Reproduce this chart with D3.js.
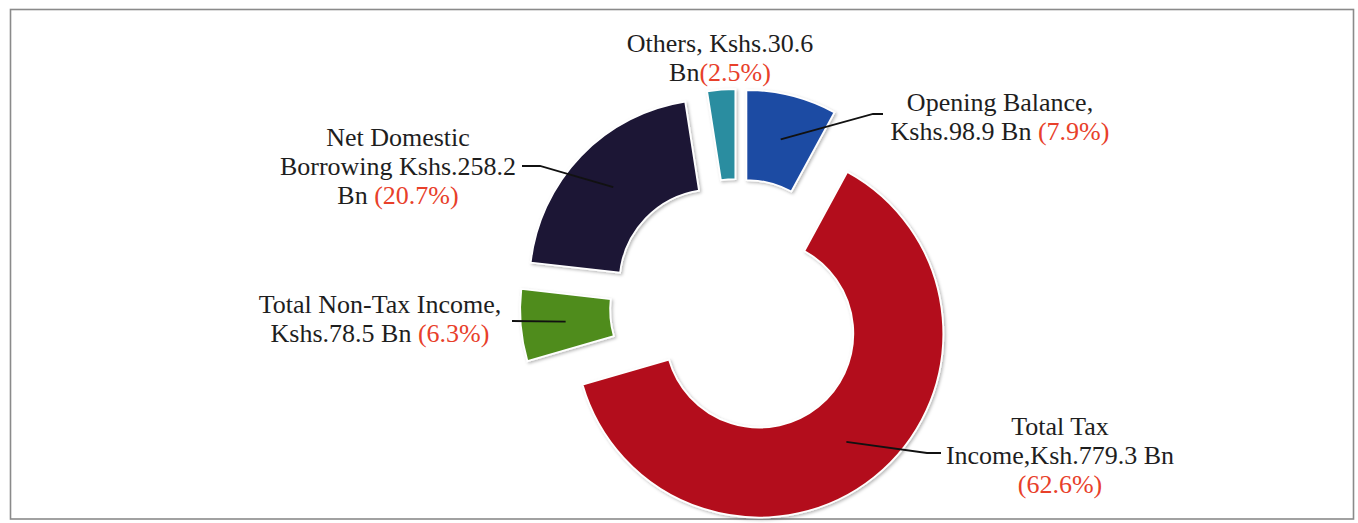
<!DOCTYPE html>
<html>
<head>
<meta charset="utf-8">
<script src="https://cdn.jsdelivr.net/npm/d3@7"></script>
<style>
  html, body { margin: 0; padding: 0; background: #fff; }
  svg { display: block; }
  text { font-family: "Liberation Serif", "Times New Roman", serif; font-size: 26px; fill: #1e1e1e; }
  .pct { fill: #e8402a; }
</style>
</head>
<body>
<svg id="chart" width="1358" height="523"></svg>
<script>
// Revenue sources (Kshs. Bn), drawn clockwise from 12 o'clock
const categories = ["Opening Balance", "Total Tax Income", "Total Non-Tax Income", "Net Domestic Borrowing", "Others"];
const values = [98.9, 779.3, 78.5, 258.2, 30.6];
const percents = ["7.9%", "62.6%", "6.3%", "20.7%", "2.5%"];
const colors = ["#1f4ba3", "#b3111a", "#4f8c1f", "#1d1736", "#2a8da0"];

// Label text, line by line; each line is [plain part, percentage part]
const labelLines = [
  [["Opening Balance,", ""], ["Kshs.98.9 Bn ", "(" + percents[0] + ")"]],
  [["Total Tax", ""], ["Income,Ksh.779.3 Bn", ""], ["", "(" + percents[1] + ")"]],
  [["Total Non-Tax Income,", ""], ["Kshs.78.5 Bn ", "(" + percents[2] + ")"]],
  [["Net Domestic", ""], ["Borrowing Kshs.258.2", ""], ["Bn ", "(" + percents[3] + ")"]],
  [["Others, Kshs.30.6", ""], ["Bn", "(" + percents[4] + ")"]]
];

// Label block placement: centre x, first baseline y
const labelPos = [
  { x: 1000, y: 111 },
  { x: 1060, y: 435 },
  { x: 380, y: 313 },
  { x: 398, y: 146 },
  { x: 720, y: 52 }
];
// Leader line elbow and end points (null = no leader)
const leaders = [
  [[873, 114], [883, 114]],
  [[927, 453], [941, 453]],
  [[512, 321]],
  [[540, 166], [522, 166]],
  null
];

const svg = d3.select("#chart");

// Outer frame
svg.append("rect")
  .attr("x", 10.5).attr("y", 9.5)
  .attr("width", 1343).attr("height", 509.5)
  .attr("fill", "none")
  .attr("stroke", "#8a8a8a")
  .attr("stroke-width", 1.6);

// Soft shadow for the slices
const defs = svg.append("defs");
const f = defs.append("filter").attr("id", "shadow")
  .attr("x", "-20%").attr("y", "-20%").attr("width", "140%").attr("height", "140%");
f.append("feDropShadow")
  .attr("dx", 1.5).attr("dy", 1.5).attr("stdDeviation", 1.6)
  .attr("flood-color", "#000").attr("flood-opacity", 0.28);

const cx = 738, cy = 307;
const outerR = 184, innerR = 94, explode = 34;

const pie = d3.pie().sort(null).value(d => d)(values);
const arc = d3.arc().innerRadius(innerR).outerRadius(outerR);

function offset(d) {
  const a = (d.startAngle + d.endAngle) / 2;
  return [Math.sin(a) * explode, -Math.cos(a) * explode];
}

const g = svg.append("g").attr("transform", `translate(${cx},${cy})`);

g.selectAll("path.slice")
  .data(pie)
  .join("path")
  .attr("class", "slice")
  .attr("transform", d => { const o = offset(d); return `translate(${o[0]},${o[1]})`; })
  .attr("d", arc)
  .attr("fill", (d, i) => colors[i])
  .attr("stroke", "#fff")
  .attr("stroke-width", 1.8)
  .attr("filter", "url(#shadow)");

// Leader lines from each slice's centroid
pie.forEach((d, i) => {
  if (!leaders[i]) return;
  const o = offset(d);
  const c = arc.centroid(d);
  const pts = [[cx + o[0] + c[0], cy + o[1] + c[1]], ...leaders[i]];
  svg.append("path")
    .attr("d", d3.line()(pts))
    .attr("fill", "none")
    .attr("stroke", "#111")
    .attr("stroke-width", 1.8);
});

// Data labels
const lineGap = 29;
labelLines.forEach((lines, i) => {
  const t = svg.append("text")
    .attr("text-anchor", "middle")
    .attr("x", labelPos[i].x)
    .attr("y", labelPos[i].y);
  lines.forEach((ln, k) => {
    const first = t.append("tspan")
      .attr("x", labelPos[i].x)
      .attr("y", labelPos[i].y + k * lineGap)
      .text(ln[0]);
    if (ln[1]) {
      if (ln[0]) t.append("tspan").attr("class", "pct").text(ln[1]);
      else first.attr("class", "pct").text(ln[1]);
    }
  });
});
</script>
</body>
</html>
